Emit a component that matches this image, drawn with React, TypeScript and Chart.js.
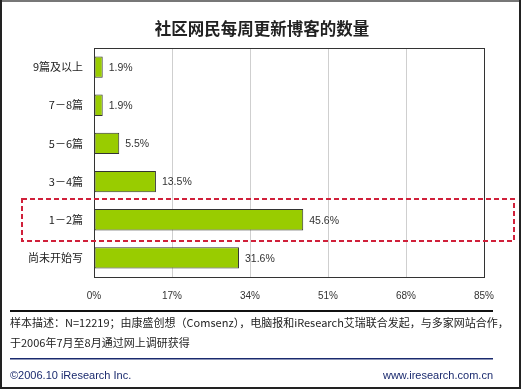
import React, { useEffect, useRef } from "react";
import { Chart, registerables } from "chart.js";

Chart.register(...registerables);

const titleText = "社区网民每周更新博客的数量";
const categories = ["9篇及以上", "7－8篇", "5－6篇", "3－4篇", "1－2篇", "尚未开始写"];
const values = [1.9, 1.9, 5.5, 13.5, 45.6, 31.6];
const valueLabels = ["1.9%", "1.9%", "5.5%", "13.5%", "45.6%", "31.6%"];
const xTicks = [0, 17, 34, 51, 68, 85];
const highlightIndex = 4;
const noteLine1 = "样本描述：N=12219；由康盛创想（Comsenz），电脑报和iResearch艾瑞联合发起，与多家网站合作，";
const noteLine2 = "于2006年7月至8月通过网上调研获得";
const copyright = "©2006.10 iResearch Inc.";
const website = "www.iresearch.com.cn";

const W = 521;
const H = 389;
const FONT = "'Liberation Sans', 'Noto Sans CJK SC', sans-serif";

const decorPlugin = {
  id: "decor",
  afterDatasetsDraw(chart: any) {
    const { ctx, chartArea, scales } = chart;
    ctx.save();
    ctx.strokeStyle = "#333";
    ctx.lineWidth = 1;
    ctx.strokeRect(
      Math.round(chartArea.left) + 0.5,
      Math.round(chartArea.top) + 0.5,
      Math.round(chartArea.right - chartArea.left),
      Math.round(chartArea.bottom - chartArea.top)
    );
    const meta = chart.getDatasetMeta(0);
    ctx.fillStyle = "#333";
    ctx.font = "10.5px " + FONT;
    ctx.textAlign = "left";
    ctx.textBaseline = "middle";
    meta.data.forEach((bar: any, i: number) => {
      ctx.fillText(valueLabels[i], bar.x + 6, bar.y + 1);
    });
    const yc = scales.y.getPixelForValue(highlightIndex);
    ctx.strokeStyle = "#d0203a";
    ctx.lineWidth = 2;
    ctx.setLineDash([5, 3]);
    ctx.strokeRect(22, Math.round(yc - 21), 492, 42);
    ctx.setLineDash([]);
    ctx.restore();
  },
  afterDraw(chart: any) {
    const { ctx } = chart;
    ctx.save();
    ctx.fillStyle = "#222";
    ctx.font = "bold 16.5px 'Noto Sans CJK SC', sans-serif";
    ctx.textAlign = "center";
    ctx.textBaseline = "middle";
    ctx.fillText(titleText, 262, 29);
    ctx.fillStyle = "#111";
    ctx.fillRect(10, 310, 483, 2);
    ctx.fillStyle = "#1a2a6e";
    ctx.fillRect(10, 358, 483, 1.5);
    ctx.fillStyle = "#222";
    ctx.font = "11px 'Noto Sans CJK SC', sans-serif";
    ctx.textAlign = "left";
    ctx.fillText(noteLine1, 10, 323);
    ctx.fillText(noteLine2, 10, 343);
    ctx.fillStyle = "#1a2a6e";
    ctx.font = "11px " + FONT;
    ctx.fillText(copyright, 10, 376);
    ctx.textAlign = "right";
    ctx.fillText(website, 493, 376);
    ctx.fillStyle = "#777";
    ctx.fillRect(0, 0, W, 2);
    ctx.fillStyle = "#222";
    ctx.fillRect(0, 0, 2, H);
    ctx.fillRect(W - 2, 0, 2, H);
    ctx.fillRect(0, H - 2, W, 2);
    ctx.restore();
  },
};

export default function App() {
  const ref = useRef<HTMLCanvasElement | null>(null);
  useEffect(() => {
    document.body.style.margin = "0";
    const canvas = ref.current!;
    const chart = new Chart(canvas, {
      type: "bar",
      data: {
        labels: categories,
        datasets: [
          {
            data: values,
            backgroundColor: "#99cc00",
            borderColor: "#333",
            borderWidth: 1,
            borderSkipped: false,
            categoryPercentage: 1,
            barPercentage: 0.56,
          },
        ],
      },
      options: {
        indexAxis: "y",
        responsive: false,
        animation: false,
        layout: { padding: { left: 0, right: 37, top: 48, bottom: 0 } },
        plugins: {
          legend: { display: false },
          tooltip: { enabled: false },
          title: { display: false },
        },
        scales: {
          x: {
            min: 0,
            max: 85,
            afterBuildTicks: (scale: any) => {
              scale.ticks = xTicks.map((v) => ({ value: v }));
            },
            afterFit: (scale: any) => {
              scale.height = 112;
            },
            grid: {
              drawTicks: false,
              color: (c: any) => (c.index === 0 || c.index === xTicks.length - 1 ? "#333" : "#cfcfcf"),
              lineWidth: 1,
            },
            border: { display: false },
            ticks: {
              padding: 13,
              color: "#333",
              font: { size: 10, family: FONT },
              callback: (v: any) => v + "%",
            },
          },
          y: {
            afterFit: (scale: any) => {
              scale.width = 94;
            },
            grid: { display: false, drawTicks: false },
            border: { display: false },
            ticks: {
              padding: 11,
              color: "#222",
              font: { size: 11, family: "'Noto Sans CJK SC', sans-serif" },
            },
          },
        },
      },
      plugins: [decorPlugin],
    });
    return () => chart.destroy();
  }, []);
  return <canvas ref={ref} width={W} height={H} style={{ display: "block", width: W, height: H }} />;
}
